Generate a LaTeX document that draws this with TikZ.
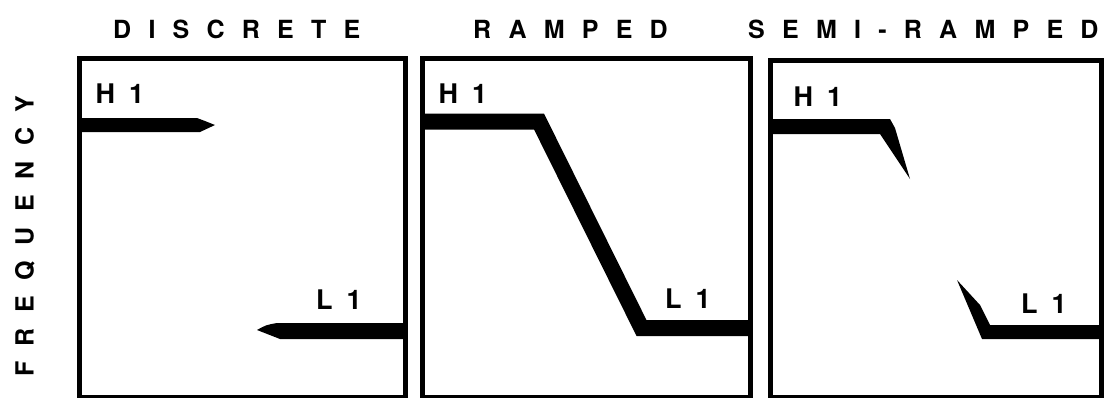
\documentclass[tikz,border=0pt]{standalone}
\usepackage{fontspec}
\setmainfont{TeX Gyre Heros}
\newfontfamily\ttlfont[LetterSpace=69]{TeX Gyre Heros}
\newfontfamily\lblfont[LetterSpace=24]{TeX Gyre Heros}
\newfontfamily\axfont[LetterSpace=62]{TeX Gyre Heros}
\tikzset{
  title/.style={anchor=base west, inner sep=0pt, font=\ttlfont\bfseries\fontsize{25}{28}\selectfont},
  lbl/.style={anchor=base west, inner sep=0pt, font=\lblfont\bfseries\fontsize{27}{30}\selectfont},
  axis/.style={anchor=base west, inner sep=0pt, rotate=90, font=\axfont\bfseries\fontsize{25}{28}\selectfont},
  panel/.style={draw=black, line width=5pt, line join=miter},
  bar/.style={fill=black},
  ramp/.style={draw=black, line width=16pt, line join=miter},
}
\begin{document}
\begin{tikzpicture}[x=1pt,y=-1pt]
\useasboundingbox (0,0) rectangle (1111,397);
% titles
\node[title] (t1) at (113,38) {DISCRETE};
\node[title] (t2) at (473,38) {RAMPED};
\node[title] (t3) at (748,38) {SEMI-RAMPED};
\node[axis] (ax) at (33.5,377) {FREQUENCY};
% panels
\draw[panel] (79,58.5) rectangle (405,397.5);
\draw[panel] (422.5,58.5) rectangle (750.5,397.5);
\draw[panel] (770.5,60) rectangle (1101,397.5);
% discrete
\fill[bar] (79,118) -- (197,118) .. controls (205,121) .. (215,125)
  .. controls (207,128) .. (200,132) -- (79,132) -- cycle;
\fill[bar] (405,323) -- (277,323) .. controls (266,325) .. (257,330)
  .. controls (268,334) .. (280,339) -- (405,339) -- cycle;
\node[lbl] (h1a) at (95.5,103) {H 1};
\node[lbl] (l1a) at (316,309) {L 1};
% ramped
\draw[ramp] (422.5,121.5) -- (539,121.5) -- (641.5,328) -- (750.5,328);
\node[lbl] (h1b) at (438.5,103) {H 1};
\node[lbl] (l1b) at (665,308) {L 1};
% semi-ramped
\fill[bar] (770.5,119) -- (890,119) -- (895,128) -- (910,179) -- (880,134) -- (770.5,134) -- cycle;
\fill[bar] (957,280) -- (980,305) -- (990,325) -- (1101,325) -- (1101,339) -- (982,339) -- cycle;
\node[lbl] (h1c) at (793.5,106) {H 1};
\node[lbl] (l1c) at (1021,313) {L 1};
\end{tikzpicture}
\end{document}
